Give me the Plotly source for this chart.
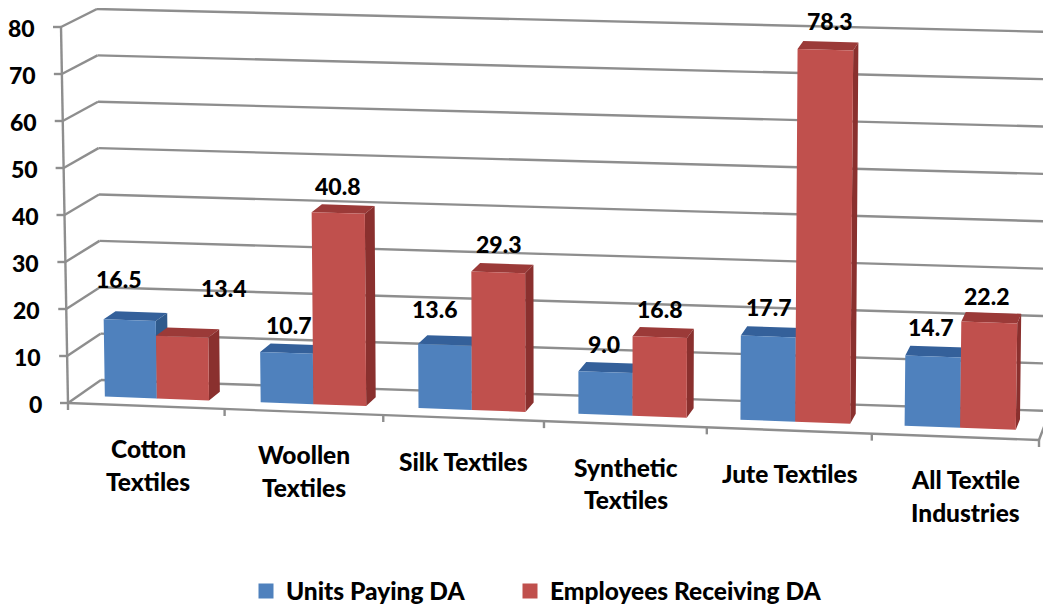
import plotly.graph_objects as go

# ---- data ----
CATEGORIES = ["Cotton<br>Textiles", "Woollen<br>Textiles", "Silk Textiles",
              "Synthetic<br>Textiles", "Jute Textiles", "All Textile<br>Industries"]
UNITS_PAYING_DA = [16.5, 10.7, 13.6, 9.0, 17.7, 14.7]
EMPLOYEES_RECEIVING_DA = [13.4, 40.8, 29.3, 16.8, 78.3, 22.2]
VALUE_TICKS = [0, 10, 20, 30, 40, 50, 60, 70, 80]
SERIES_NAMES = ["Units Paying DA", "Employees Receiving DA"]

# ---- view of the 3-D box (pixels of the page at its corners) ----
FLB, FLT, BLB, BLT = (68, 403), (61, 27), (101, 380), (97, 9)
FRB, FRT, BRB, BRT = (1039, 440), (1045, 55), (1050, 411), (1054, 32)
VMAX = 80.0
WARP = 1.04
D0, D1 = 0.32, 0.68          # depth span of bars
B0, B1, B2 = 0.17, 0.505, 0.84  # bar edges inside a category
PAGE_MARGIN = 8              # the browser's default body margin


def lerp(a, b, t):
    return (a[0] + (b[0] - a[0]) * t, a[1] + (b[1] - a[1]) * t)


def project(cat, depth, value):
    u = cat / len(CATEGORIES)
    t = u / (u + (1 - u) * WARP) if u > 0 else 0.0
    z = value / VMAX
    front = lerp(lerp(FLB, FRB, t), lerp(FLT, FRT, t), z)
    back = lerp(lerp(BLB, BRB, t), lerp(BLT, BRT, t), z)
    return lerp(front, back, depth)


def polys(points_list):
    xs, ys = [], []
    for pts in points_list:
        for p in pts + [pts[0]]:
            xs.append(p[0])
            ys.append(p[1])
        xs.append(None)
        ys.append(None)
    return xs, ys


def segs(seg_list):
    xs, ys = [], []
    for a, b in seg_list:
        xs += [a[0], b[0], None]
        ys += [a[1], b[1], None]
    return xs, ys


fig = go.Figure()

GRID = "#8e8e8e"
n = len(CATEGORIES)
grid = []
for v in VALUE_TICKS:
    grid.append((project(0, 0, v), project(0, 1, v)))
    grid.append((project(0, 1, v), project(n, 1, v)))
    tl = project(0, 0, v)
    grid.append((tl, (tl[0] - 8, tl[1])))
grid.append((project(0, 0, 0), project(0, 0, VMAX)))
grid.append((project(0, 0, 0), project(n, 0, 0)))
grid.append((project(n, 0, 0), project(n, 1, 0)))
for c in range(n + 1):
    p = project(c, 0, 0)
    grid.append((p, (p[0], p[1] + 7)))
gx, gy = segs(grid)
fig.add_trace(go.Scatter(x=gx, y=gy, mode="lines", line=dict(color=GRID, width=2.4),
                         hoverinfo="skip", showlegend=False))

STYLES = [
    dict(front="#4f81bd", top="#34609a", side="#2f5a8c"),
    dict(front="#c0504d", top="#9b3a38", side="#8a302e"),
]
ALL_VALUES = [UNITS_PAYING_DA, EMPLOYEES_RECEIVING_DA]
LEGEND_IDS = ["legend", "legend2"]
for j, values in enumerate(ALL_VALUES):
    left, right = (B0, B1) if j == 0 else (B1, B2)
    fronts, tops, sides = [], [], []
    for i, v in enumerate(values):
        a, b = i + left, i + right
        fronts.append([project(a, D0, 0), project(b, D0, 0), project(b, D0, v), project(a, D0, v)])
        tops.append([project(a, D0, v), project(b, D0, v), project(b, D1, v), project(a, D1, v)])
        sides.append([project(b, D0, 0), project(b, D1, 0), project(b, D1, v), project(b, D0, v)])
    for face, key in ((tops, "top"), (sides, "side"), (fronts, "front")):
        x, y = polys(face)
        fig.add_trace(go.Scatter(x=x, y=y, mode="lines", line=dict(width=0), fill="toself",
                                 fillcolor=STYLES[j][key], hoverinfo="skip", showlegend=False))
    fig.add_trace(go.Scatter(x=[None], y=[None], mode="markers", name=SERIES_NAMES[j],
                             legend=LEGEND_IDS[j], showlegend=True,
                             marker=dict(symbol="square", size=15, color=STYLES[j]["front"])))

FAMILY = "Lato, Carlito, sans-serif"


def label(x, y, text, size, anchor="center"):
    fig.add_annotation(x=x, y=y, text=text, showarrow=False,
                       font=dict(family=FAMILY, size=size, color="#000000", weight=900),
                       xanchor=anchor, yanchor="middle", xref="x", yref="y")


# value-axis tick labels
for v in VALUE_TICKS:
    p = project(0, 0, v)
    label(p[0] - 24, p[1] + 1, str(v), 23, "right")

# data labels, nudged from the top-centre of each bar's front face
LABEL_NUDGE = [
    [(-11, -41), (3, -28), (-10, -36), (-1, -28), (1, -30), (-2, -30)],
    [(42, -49), (0, -27.5), (1, -28), (0, -28.5), (5, -29), (-2, -27)],
]
for j, values in enumerate(ALL_VALUES):
    left, right = (B0, B1) if j == 0 else (B1, B2)
    for i, v in enumerate(values):
        p = project(i + (left + right) / 2, D0, v)
        dx, dy = LABEL_NUDGE[j][i]
        label(p[0] + dx, p[1] + dy, f"{v:.1f}", 23)

# category labels, one annotation per line
CAT_DX = [2, 0, 0, 1, 1, 10]
for i, name in enumerate(CATEGORIES):
    p = project(i + 0.5, 0, 0)
    for k, line in enumerate(name.split("<br>")):
        label(p[0] + CAT_DX[i], p[1] + 43 + 32.5 * k, line, 24.5)

W, H = 1051 - PAGE_MARGIN, 640


def legend_box(left_px):
    return dict(orientation="h", x=(left_px - PAGE_MARGIN) / W, y=1 - (591 - PAGE_MARGIN) / H,
                xanchor="left", yanchor="middle", itemwidth=30,
                font=dict(family=FAMILY, size=24.5, color="#000000", weight=900),
                bgcolor="rgba(0,0,0,0)")


fig.update_layout(
    width=W, height=H, margin=dict(l=0, r=0, t=0, b=0),
    paper_bgcolor="white", plot_bgcolor="white",
    xaxis=dict(range=[PAGE_MARGIN, 1051], visible=False, fixedrange=True),
    yaxis=dict(range=[PAGE_MARGIN + H, PAGE_MARGIN], visible=False, fixedrange=True),
    legend=legend_box(246),
    legend2=legend_box(510),
)
fig.write_html("out.html", config=dict(displayModeBar=False))
